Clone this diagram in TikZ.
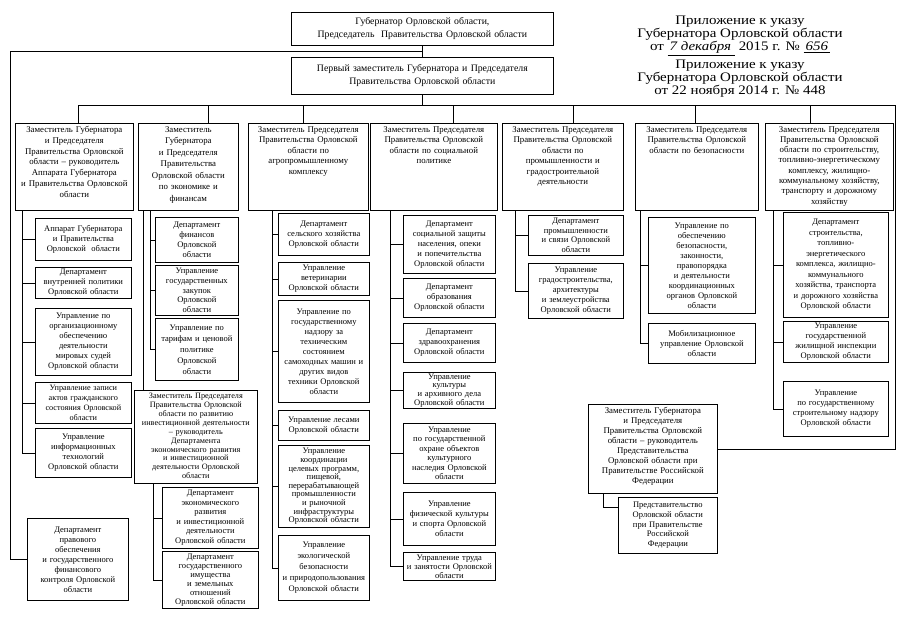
\documentclass[tikz,border=0pt]{standalone}
\usepackage{fontspec}
\setmainfont{Liberation Serif}
\newfontfamily\annexfont{Liberation Serif}[FakeStretch=1.15]
\tikzset{
  obox/.style={draw, line width=0.7pt, inner sep=0.5pt, align=center, font=\fontsize{8.5}{10}\selectfont},
  otext/.style={inner sep=0pt, align=center, font=\fontsize{8.8}{10.5}\selectfont},
  hbox/.style={draw, line width=0.7pt, inner sep=0.5pt, align=center, font=\fontsize{9.8}{13}\selectfont},
  annex/.style={inner sep=0pt, align=center, font=\annexfont\fontsize{13}{13}\selectfont},
  conn/.style={line width=0.7pt},
  lsp/.style={font=\fontsize{8.5}{#1}\selectfont},
  ssp/.style={font=\fontsize{8.2}{#1}\selectfont},
  dsp/.style={font=\fontsize{8.8}{#1}\selectfont},
}
\newcommand\obx[7][]{%
  \pgfmathsetmacro\bw{#5-#3}\pgfmathsetmacro\bh{#6-#4}\pgfmathsetmacro\tw{#5-#3-2}%
  \node[obox, minimum width=\bw pt, minimum height=\bh pt, text width=\tw pt, anchor=north west, #1] (#2) at (#3,#4) {#7};}
\newcommand\dbx[7][]{%
  \pgfmathsetmacro\bw{#5-#3}\pgfmathsetmacro\bh{#6-#4}\pgfmathsetmacro\tw{#5-#3-2}%
  \node[obox, minimum width=\bw pt, minimum height=\bh pt, anchor=north west] (#2) at (#3,#4) {};
  \node[otext, text width=\tw pt, anchor=north, #1] (#2t) at ([yshift=-3pt]#2.north) {#7};}
\begin{document}
\begin{tikzpicture}[x=1pt,y=-1pt]
\fill[white] (0,0) rectangle (905,640);
\useasboundingbox (0,0) rectangle (905,640);

% header
\obx[hbox]{gov}{291}{12}{553}{45}{Губернатор Орловской области,\\Председатель\ \ Правительства Орловской области}
\obx[hbox]{fd}{291}{57}{553}{94}{Первый заместитель Губернатора и Председателя\\Правительства Орловской области}
\node[annex] (ann1) at (740,36) {Приложение к указу\\Губернатора Орловской области\\от \underline{\textit{\hspace{2pt}7 декабря\hspace{4pt}}} 2015 г. № \underline{\textit{\hspace{2pt}656\hspace{2pt}}}};
\node[annex] (ann2) at (740,79) {Приложение к указу\\Губернатора Орловской области\\от 22 ноября 2014 г. № 448};

% deputies
\dbx[dsp=10.8]{c1}{15}{123}{133}{210}{Заместитель Губернатора\\и Председателя\\Правительства Орловской\\области – руководитель\\Аппарата Губернатора\\и Правительства Орловской\\области}
\dbx[dsp=11.5]{c2}{138}{123}{238}{210}{Заместитель\\Губернатора\\и Председателя\\Правительства\\Орловской области\\по экономике и\\финансам}
\dbx{c3}{248}{123}{368}{210}{Заместитель Председателя\\Правительства Орловской\\области по\\агропромышленному\\комплексу}
\dbx{c4}{370}{123}{497}{210}{Заместитель Председателя\\Правительства Орловской\\области по социальной\\политике}
\dbx{c5}{502}{123}{623}{210}{Заместитель Председателя\\Правительства Орловской\\области по\\промышленности и\\градостроительной\\деятельности}
\dbx{c6}{635}{123}{758}{210}{Заместитель Председателя\\Правительства Орловской\\области по безопасности}
\dbx[dsp=10.3]{c7}{765}{123}{893}{210}{Заместитель Председателя\\Правительства Орловской\\области по строительству,\\топливно-энергетическому\\комплексу, жилищно-\\коммунальному хозяйству,\\транспорту и дорожному\\хозяйству}
\dbx[ssp=8.9]{c2b}{134}{390}{257}{483}{Заместитель Председателя\\Правительства Орловской\\области по развитию\\инвестиционной деятельности\\– руководитель\\Департамента\\экономического развития\\и инвестиционной\\деятельности Орловской\\области}
\dbx[dsp=10]{repd}{588}{404}{717}{493}{Заместитель Губернатора\\и Председателя\\Правительства Орловской\\области – руководитель\\Представительства\\Орловской области при\\Правительстве Российской\\Федерации}

% column 1
\obx{s11}{35}{218}{131}{260}{Аппарат Губернатора\\и Правительства\\Орловской\ \ области}
\obx{s12}{35}{267}{131}{298}{Департамент\\внутренней политики\\Орловской области}
\obx{s13}{35}{308}{131}{375}{Управление по\\организационному\\обеспечению\\деятельности\\мировых судей\\Орловской области}
\obx[ssp=10]{s14}{35}{382}{131}{423}{Управление записи\\актов гражданского\\состояния Орловской\\области}
\obx{s15}{35}{428}{131}{477}{Управление\\информационных\\технологий\\Орловской области}
\obx{lg}{27}{518}{128}{600}{Департамент\\правового\\обеспечения\\и государственного\\финансового\\контроля Орловской\\области}

% column 2
\obx{s21}{155}{217}{238}{262}{Департамент\\финансов\\Орловской\\области}
\obx[lsp=9.6]{s22}{155}{265}{238}{315}{Управление\\государственных\\закупок\\Орловской\\области}
\obx[lsp=11]{s23}{155}{318}{238}{380}{Управление по\\тарифам и ценовой\\политике\\Орловской\\области}
\obx[lsp=9.5]{s24}{162}{487}{258}{548}{Департамент\\экономического\\развития\\и инвестиционной\\деятельности\\Орловской области}
\obx[lsp=9]{s25}{162}{551}{258}{608}{Департамент\\государственного\\имущества\\и земельных\\отношений\\Орловской области}

% column 3
\obx{s31}{278}{213}{369}{255}{Департамент\\сельского хозяйства\\Орловской области}
\obx{s32}{278}{262}{369}{295}{Управление\\ветеринарии\\Орловской области}
\obx{s33}{278}{300}{369}{402}{Управление по\\государственному\\надзору за\\техническим\\состоянием\\самоходных машин и\\других видов\\техники Орловской\\области}
\obx{s34}{278}{410}{369}{440}{Управление лесами\\Орловской области}
\obx[lsp=8.6]{s35}{278}{445}{369}{527}{Управление\\координации\\целевых программ,\\пищевой,\\перерабатывающей\\промышленности\\и рыночной\\инфраструктуры\\Орловской области}
\obx[lsp=11]{s36}{278}{535}{369}{600}{Управление\\экологической\\безопасности\\и природопользования\\Орловской области}

% column 4
\obx{s41}{403}{215}{495}{273}{Департамент\\социальной защиты\\населения, опеки\\и попечительства\\Орловской области}
\obx{s42}{403}{278}{495}{317}{Департамент\\образования\\Орловской области}
\obx{s43}{403}{323}{495}{362}{Департамент\\здравоохранения\\Орловской области}
\obx[lsp=8.8]{s44}{403}{372}{495}{408}{Управление\\культуры\\и архивного дела\\Орловской области}
\obx[lsp=9.5]{s45}{403}{423}{495}{483}{Управление\\по государственной\\охране объектов\\культурного\\наследия Орловской\\области}
\obx{s46}{403}{492}{495}{545}{Управление\\физической культуры\\и спорта Орловской\\области}
\obx[lsp=9]{s47}{403}{552}{495}{580}{Управление труда\\и занятости Орловской\\области}

% column 5
\obx[lsp=9.5]{s51}{528}{215}{623}{255}{Департамент\\промышленности\\и связи Орловской\\области}
\obx{s52}{528}{263}{623}{318}{Управление\\градостроительства,\\архитектуры\\и землеустройства\\Орловской области}

% column 6
\obx{s61}{648}{217}{755}{313}{Управление по\\обеспечению\\безопасности,\\законности,\\правопорядка\\и деятельности\\координационных\\органов Орловской\\области}
\obx{s62}{648}{323}{755}{363}{Мобилизационное\\управление Орловской\\области}

% column 7
\obx[lsp=10.5]{s71}{783}{212}{888}{317}{Департамент\\строительства,\\топливно-\\энергетического\\комплекса, жилищно-\\коммунального\\хозяйства, транспорта\\и дорожного хозяйства\\Орловской области}
\obx{s72}{783}{321}{888}{362}{Управление\\государственной\\жилищной инспекции\\Орловской области}
\obx{s73}{783}{381}{888}{436}{Управление\\по государственному\\строительному надзору\\Орловской области}

% representative office
\obx[lsp=9.7]{rep}{618}{497}{717}{553}{Представительство\\Орловской области\\при Правительстве\\Российской\\Федерации}

% connectors: top
\draw[conn] (gov) -- (fd);
\coordinate (gl) at (10,51);
\draw[conn] (gl -| gov.south) -- (gl) |- (lg.west);
\coordinate (busL) at (78,105);
\coordinate (busR) at (895,105);
\draw[conn] (busL) -- (busR);
\draw[conn] (fd.south) -- (fd.south |- busL);
\draw[conn] (busR) |- (repd.east);
\coordinate (rsp) at (603,493);
\draw[conn] (rsp) |- ([yshift=-10pt]rep.north west);

% drops to deputies
\coordinate (d1) at (78,105);  \draw[conn] (d1) -- (d1 |- c1.north);
\coordinate (d2) at (208,105); \draw[conn] (d2) -- (d2 |- c2.north);
\coordinate (d3) at (303,105); \draw[conn] (d3) -- (d3 |- c3.north);
\coordinate (d4) at (453,105); \draw[conn] (d4) -- (d4 |- c4.north);
\coordinate (d5) at (573,105); \draw[conn] (d5) -- (d5 |- c5.north);
\coordinate (d6) at (695,105); \draw[conn] (d6) -- (d6 |- c6.north);
\coordinate (d7) at (810,105); \draw[conn] (d7) -- (d7 |- c7.north);

% spines
\coordinate (p1) at (22,210);
\draw[conn] (p1) -- (p1 |- s15.west);
\foreach \s in {s11,s12,s13,s14,s15} \draw[conn] (\s.west) -- (\s.west -| p1);

\coordinate (p2o) at (143,210);
\draw[conn] (p2o) -- (p2o |- c2b.north);
\coordinate (p2) at (150,210);
\draw[conn] (p2) -- (p2 |- s23.west);
\foreach \s in {s21,s22,s23} \draw[conn] (\s.west) -- (\s.west -| p2);
\coordinate (p2b) at (153,483);
\draw[conn] (p2b) -- (p2b |- s25.west);
\foreach \s in {s24,s25} \draw[conn] (\s.west) -- (\s.west -| p2b);

\coordinate (p3) at (272,210);
\draw[conn] (p3) -- (p3 |- s36.west);
\foreach \s in {s31,s32,s33,s34,s35,s36} \draw[conn] (\s.west) -- (\s.west -| p3);

\coordinate (p4) at (390,210);
\draw[conn] (p4) -- (p4 |- s47.west);
\foreach \s in {s41,s42,s43,s44,s45,s46,s47} \draw[conn] (\s.west) -- (\s.west -| p4);

\coordinate (p5) at (515,210);
\draw[conn] (p5) -- (p5 |- s52.west);
\foreach \s in {s51,s52} \draw[conn] (\s.west) -- (\s.west -| p5);

\coordinate (p6) at (640,210);
\draw[conn] (p6) -- (p6 |- s62.west);
\foreach \s in {s61,s62} \draw[conn] (\s.west) -- (\s.west -| p6);

\coordinate (p7) at (773,210);
\draw[conn] (p7) -- (p7 |- s73.west);
\foreach \s in {s71,s72,s73} \draw[conn] (\s.west) -- (\s.west -| p7);
\end{tikzpicture}
\end{document}
